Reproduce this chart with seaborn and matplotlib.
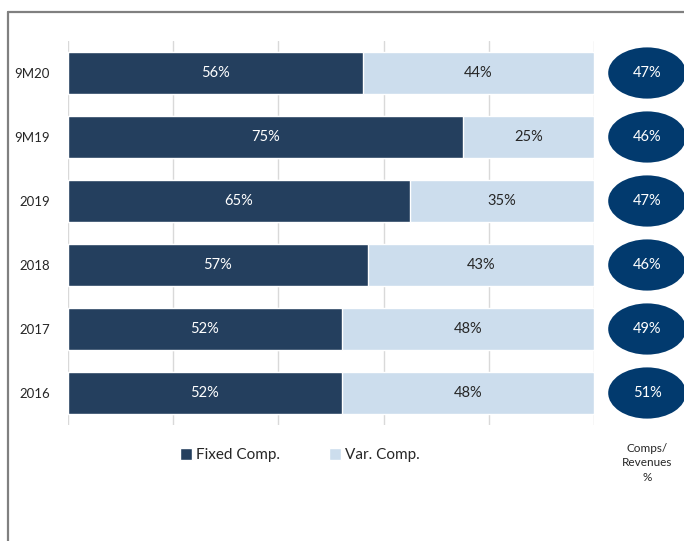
import matplotlib
matplotlib.use("Agg")
import matplotlib.pyplot as plt
from matplotlib.patches import Ellipse, Patch
from matplotlib.lines import Line2D
import seaborn as sns
import pandas as pd

# data
periods = ["9M20", "9M19", "2019", "2018", "2017", "2016"]
fixed_comp = [56, 75, 65, 57, 52, 52]
var_comp = [44, 25, 35, 43, 48, 48]
comps_revenues = [47, 46, 47, 46, 49, 51]

DARK = "#243F5E"
LIGHT = "#CCDDED"
OVAL = "#023A6E"

sns.set_theme(style="white")
plt.rcParams['font.family'] = ['Lato', 'DejaVu Sans']

df = pd.DataFrame({
    'Period': periods,
    'Fixed': fixed_comp,
    'Var': var_comp,
})
df['Total'] = df['Fixed'] + df['Var']

fig = plt.figure(figsize=(6.84, 5.41), dpi=100)
ax = fig.add_axes([68 / 684, 1 - 425 / 541, 526 / 684, 384 / 541])

sns.barplot(data=df, x='Total', y='Period', orient='h', color=LIGHT,
            width=0.66, saturation=1, ax=ax, zorder=2)
sns.barplot(data=df, x='Fixed', y='Period', orient='h', color=DARK,
            width=0.66, saturation=1, ax=ax, zorder=3)

ax.set_xlim(0, 100)
ax.set_ylim(5.5, -0.5)
ax.set_xticks([0, 20, 40, 60, 80, 100])
ax.set_xticklabels([])
ax.grid(axis='x', color='#D9D9D9', linewidth=1, zorder=0)
ax.set_axisbelow(True)
ax.tick_params(axis='both', length=0)
ax.tick_params(axis='y', pad=13, labelsize=9.5, labelcolor='#262626')
ax.set_xlabel('')
ax.set_ylabel('')
sns.despine(ax=ax, left=True, bottom=True)

for i, (f, v) in enumerate(zip(fixed_comp, var_comp)):
    ax.text(f / 2, i, f"{f}%", ha='center', va='center', color='white', fontsize=10.5, zorder=4)
    ax.text(f + v / 2, i, f"{v}%", ha='center', va='center', color='#262626', fontsize=10.5, zorder=4)
    ax.add_patch(Ellipse((110.1, i), 14.8, 0.8, facecolor=OVAL, edgecolor='none',
                         clip_on=False, zorder=4))
    ax.text(110.1, i, f"{comps_revenues[i]}%", ha='center', va='center', color='white',
            fontsize=10.5, zorder=5, clip_on=False)

fig.text(647 / 684, 1 - 463 / 541, "Comps/\nRevenues\n%", ha='center', va='center',
         fontsize=8.5, color='#262626', linespacing=1.4)

handles = [Patch(facecolor=DARK, label='Fixed Comp.'), Patch(facecolor=LIGHT, label='Var. Comp.')]
fig.legend(handles=handles, loc='center', bbox_to_anchor=(300 / 684, 1 - 455 / 541), ncol=2,
           frameon=False, fontsize=11, handlelength=0.8, handleheight=0.9,
           handletextpad=0.25, columnspacing=3.2, labelcolor='#262626')

# frame lines at top and left
fig.add_artist(Line2D([8 / 684, 1], [1 - 12 / 541, 1 - 12 / 541], color='#808080', linewidth=1.6))
fig.add_artist(Line2D([8 / 684, 8 / 684], [0, 1 - 12 / 541], color='#808080', linewidth=1.6))

fig.savefig("out.png", dpi=100)
